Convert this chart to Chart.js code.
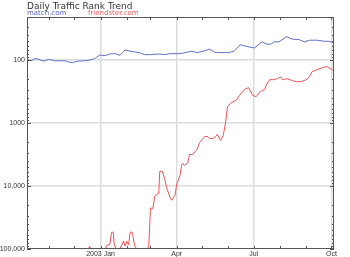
<!DOCTYPE html>
<html><head><meta charset="utf-8">
<script src="https://cdn.jsdelivr.net/npm/chart.js@4/dist/chart.umd.min.js"></script>
<style>
html,body{margin:0;padding:0;background:#fff;}
#wrap{position:relative;width:350px;height:257px;overflow:hidden;font-family:"DejaVu Sans",Verdana,sans-serif;}
#title{position:absolute;left:27px;top:1px;font-size:9px;line-height:10px;color:#333;white-space:nowrap;}
.leg{position:absolute;top:9px;font-size:7px;line-height:9px;white-space:nowrap;}
</style></head>
<body>
<div id="wrap">
<canvas id="c" width="350" height="257"></canvas>
<div id="title">Daily Traffic Rank Trend</div>
<div class="leg" style="left:27px;color:#5a66c4">match.com</div>
<div class="leg" style="left:88px;color:#f06060">friendster.com</div>
</div>
<script>
// days relative to 2003-01-01
const matchDays = [-87,-81,-78,-74,-69,-66,-62,-57,-54,-42,-36,-33,-27,-19,-13,-7,-1,5,11,17,23,29,35,40,46,52,58,64,70,76,82,94,102,108,114,123,129,135,141,152,158,165,174,182,188,191,197,202,205,211,220,226,235,241,247,256,265,270,276];
const matchRanks = [100,103,96,97,104,104,99,101,104,104,110,111,105,104,101,96,84,86,81,80,85,70,73,75,77,83,83,82,81,83,80,80,76,73,77,72,68,76,77,77,73,58,62,65,56,52,57,56,52,52,43,47,48,52,49,49,51,51,54];

const friendsterDays = [-14,-13,-12,-11,6,7,11,13,15,16,18,20,23,25,27,29,31,33,35,37,38,40,42,48,56,57,59,62,64,68,69,70,73,76,78,82,84,88,90,94,96,97,99,103,105,109,114,117,123,127,129,133,136,138,142,145,148,150,155,161,164,170,175,180,184,189,194,196,200,204,209,213,215,221,227,232,237,243,247,250,256,262,266,268,274,276];
const friendsterRanks = [97000,90000,97000,null,97000,88900,83700,54100,54100,83700,97000,null,97000,86800,75000,90000,75000,86800,54100,54100,58200,86800,97000,null,97000,90000,22600,22600,14600,13100,11300,5880,5880,7870,10500,15100,16900,14100,9440,6800,4560,4400,4730,4400,3170,3170,2640,2050,1650,1650,1770,1770,1650,1530,1900,1590,953,552,478,428,370,298,277,370,384,320,298,248,207,207,200,186,207,200,215,223,223,207,186,155,144,134,129,129,144,155];

const xTickDays = [0, 90, 181, 273];
const xTickLabels = ['2003 Jan', 'Apr', 'Jul', 'Oct'];
const monthDays = [-61, -31, 0, 31, 59, 90, 120, 151, 181, 212, 243, 273];
const yTickValues = [100, 1000, 10000, 100000];
const yTickLabels = ['100', '1000', '10,000', '100,000'];

const frame = {
  id: 'frame',
  afterDraw(chart) {
    const {ctx, chartArea: a, scales: {x, y}} = chart;
    ctx.save();
    ctx.strokeStyle = '#555';
    ctx.lineWidth = 1;
    ctx.strokeRect(Math.round(a.left) + 0.5, Math.round(a.top) + 0.5, Math.round(a.right - a.left) - 1, Math.round(a.bottom - a.top) - 1);
    ctx.beginPath();
    monthDays.forEach(d => {
      const px = Math.round(x.getPixelForValue(d)) + 0.5;
      if (px < a.left || px > a.right) return;
      ctx.moveTo(px, a.top); ctx.lineTo(px, a.top + 3);
      ctx.moveTo(px, a.bottom); ctx.lineTo(px, a.bottom - 3);
    });
    for (let dec = 10; dec <= 100000; dec *= 10) {
      for (let m = 1; m < 10; m++) {
        const v = dec * m;
        if (v < y.min || v > y.max) continue;
        const py = Math.round(y.getPixelForValue(v)) + 0.5;
        const len = m === 1 ? 4 : 2;
        ctx.moveTo(a.left, py); ctx.lineTo(a.left + len, py);
        ctx.moveTo(a.right, py); ctx.lineTo(a.right - len, py);
      }
    }
    ctx.stroke();
    ctx.restore();
  }
};

new Chart(document.getElementById('c'), {
  type: 'line',
  data: {
    datasets: [
      {
        label: 'match.com',
        data: matchDays.map((d, i) => ({x: d, y: matchRanks[i]})),
        borderColor: '#6170c6', borderWidth: 1, pointRadius: 0, tension: 0, fill: false
      },
      {
        label: 'friendster.com',
        data: friendsterDays.map((d, i) => ({x: d, y: friendsterRanks[i]})),
        borderColor: '#f25252', borderWidth: 1, pointRadius: 0, tension: 0, fill: false, spanGaps: false
      }
    ]
  },
  options: {
    responsive: false,
    animation: false,
    devicePixelRatio: 1,
    layout: {padding: {left: 0, right: 16, top: 17, bottom: 0}},
    plugins: {legend: {display: false}, title: {display: false}, tooltip: {enabled: false}},
    scales: {
      x: {
        type: 'linear', min: -87, max: 276,
        afterBuildTicks: s => { s.ticks = xTickDays.map(v => ({value: v})); },
        afterFit: s => { s.height = 8; },
        ticks: {
          autoSkip: false, maxRotation: 0, padding: 1,
          font: {family: 'Liberation Sans', size: 7}, color: '#333',
          callback: v => xTickLabels[xTickDays.indexOf(v)] ?? ''
        },
        grid: {color: '#dcdcdc', lineWidth: 1.5, drawTicks: false},
        border: {display: false}
      },
      y: {
        type: 'logarithmic', reverse: true, min: 21, max: 100000,
        afterBuildTicks: s => { s.ticks = yTickValues.map(v => ({value: v})); },
        afterFit: s => { s.width = 27; },
        ticks: {
          autoSkip: false, padding: 2,
          font: {family: 'Liberation Sans', size: 7}, color: '#333',
          callback: v => yTickLabels[yTickValues.indexOf(v)] ?? ''
        },
        grid: {color: c => c.tick && c.tick.value === 100000 ? 'rgba(0,0,0,0)' : '#dcdcdc', lineWidth: 1.5, drawTicks: false},
        border: {display: false}
      }
    }
  },
  plugins: [frame]
});
</script>
</body></html>
